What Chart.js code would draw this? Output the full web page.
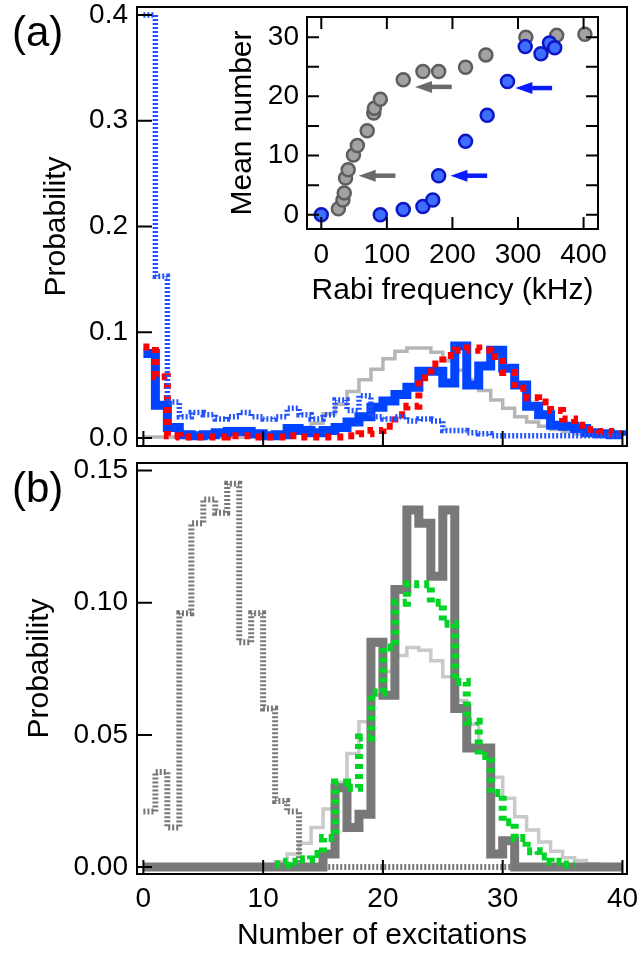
<!DOCTYPE html>
<html>
<head>
<meta charset="utf-8">
<script src="https://cdn.jsdelivr.net/npm/chart.js@4.4.1/dist/chart.umd.min.js"></script>
<style>
  html, body { margin: 0; padding: 0; background: #fff; }
  #fig { position: relative; width: 640px; height: 954px; overflow: hidden;
         font-family: 'Liberation Sans', Arial, Helvetica, sans-serif; }
  #fig canvas { position: absolute; }
  .panel-tag { position: absolute; left: 12px; font-size: 42px; line-height: 42px; color: #000; }
</style>
</head>
<body>
<div id="fig">
  <canvas id="histA" width="640" height="455" style="left:0;top:0"></canvas>
  <canvas id="histB" width="640" height="504" style="left:0;top:450px"></canvas>
  <canvas id="rabi" width="430" height="315" style="left:200px;top:0"></canvas>
  <div class="panel-tag" style="top:11px">(a)</div>
  <div class="panel-tag" style="top:467px">(b)</div>
</div>
<script>
// ---- excitation-number axis and tick labels ----
const excitations = [0,1,2,3,4,5,6,7,8,9,10,11,12,13,14,15,16,17,18,19,20,
                     21,22,23,24,25,26,27,28,29,30,31,32,33,34,35,36,37,38,39,40];
const excitationTicks = [0, 10, 20, 30, 40];
const probTicksA = [0, 0.1, 0.2, 0.3, 0.4];
const probTicksB = [0, 0.05, 0.10, 0.15];

// ---- panel (a) distributions ----
const thermalA = [0.001,0.001,0.001,0.001,0.001,0.001,0.001,0.001,0.001,0.001,0.002,
                  0.004,0.007,0.010,0.014,0.023,0.032,0.044,0.055,0.065,0.075,
                  0.082,0.085,0.085,0.081,0.073,0.064,0.055,0.045,0.036,0.028,
                  0.020,0.015,0.011,0.008,0.006,0.004,0.003,0.002,0.001,0.001];
const measuredRed = [0.086,0.058,0.002,0.001,0.001,0.001,0.001,0.002,0.002,0.001,0.001,
                     0.001,0.002,0.001,0.001,0.001,0.001,0.002,0.004,0.007,0.011,
                     0.022,0.030,0.057,0.070,0.078,0.083,0.085,0.083,0.077,0.062,
                     0.047,0.038,0.034,0.026,0.018,0.012,0.008,0.006,0.004,0.004];
const measuredBlue = [0.080,0.031,0.010,0.003,0.002,0.003,0.005,0.006,0.006,0.004,0.002,
                      0.003,0.009,0.007,0.005,0.007,0.010,0.015,0.020,0.029,0.035,
                      0.041,0.048,0.063,0.063,0.052,0.087,0.050,0.068,0.083,0.066,
                      0.050,0.030,0.022,0.012,0.011,0.009,0.005,0.004,0.003,0.002];
const initialBlue = [0.400,0.153,0.034,0.020,0.024,0.022,0.018,0.020,0.024,0.020,0.018,
                     0.020,0.028,0.022,0.018,0.022,0.036,0.026,0.040,0.020,0.018,
                     0.020,0.016,0.018,0.016,0.007,0.007,0.005,0.004,0.002,0.002,
                     0.002,0.002,0.002,0.002,0.002,0.002,0.002,0.002,0.002,0.002];

// ---- panel (b) distributions (null = no recorded value) ----
const thermalB = [0,0,0,0,0,0,0,0,0,0,0.001,
                  0.002,0.005,0.009,0.015,0.022,0.032,0.043,0.055,0.065,0.074,
                  0.080,0.083,0.082,0.078,0.072,0.063,0.054,0.044,0.034,0.026,
                  0.019,0.014,0.0095,0.006,0.0035,0.0025,0.0013,0.0005,0,0];
const measuredGray = [0,0,0,0,0,0,0,0,0,0,0,
                      0,0,0,0,0.005,0.030,0.015,0.020,0.085,0.065,
                      0.105,0.135,0.130,0.110,0.135,0.060,0.045,0.045,0.005,0.010,
                      0,0,0,0,0,0,0,0,0,0];
const measuredGreen = [null,null,null,null,null,null,null,null,null,null,null,
                       0.001,0.002,0.003,0.005,0.011,0.032,0.030,0.049,0.066,0.083,
                       0.100,0.107,0.107,0.100,0.092,0.070,0.055,0.042,0.028,0.017,
                       0.011,0.006,0.004,0.002,0.001,0.001,null,null,null,null];
const initialGray = [0.021,0.036,0.015,0.096,0.130,0.139,0.134,0.145,0.085,0.096,0.060,
                     0.025,0.021,0,0,0,0,0,0,0,0,
                     0,0,0,0,0,0,0,0,0,0,
                     0,0,0,0,0,0,0,0,0,0];

// ---- inset: mean excitation number vs Rabi frequency ----
const rabiTicks = [0, 100, 200, 300, 400];
const meanTicks = [0, 10, 20, 30];
const meanMinorTicks = [5, 15, 25];
const grayRabi = [26, 33, 35, 37, 41, 49, 55, 70, 80, 81, 90, 125, 155, 179, 220, 251, 312, 359, 402];
const grayMean = [1.0, 2.5, 3.7, 6.2, 7.6, 10.1, 11.7, 14.2, 17.2, 18.0, 19.5, 22.8, 24.2, 24.2, 24.9, 27.0, 30.0, 30.3, 30.5];
const blueRabi = [0, 90, 125, 155, 170, 179, 220, 253, 284, 311, 335, 348, 356];
const blueMean = [0, 0, 0.9, 1.4, 2.5, 6.6, 12.4, 16.8, 22.5, 28.4, 27.2, 29.0, 28.2];
const grayArrows = [{from: 113, to: 57, at: 6.6}, {from: 199, to: 143, at: 21.6}];
const blueArrows = [{from: 253, to: 197, at: 6.6}, {from: 352, to: 296, at: 21.4}];

// ---- shared drawing helpers ----
Chart.defaults.font.family = "'Liberation Sans', Arial, Helvetica, sans-serif";
Chart.defaults.font.size = 28;
Chart.defaults.color = '#000';
Chart.defaults.animation = false;
Chart.defaults.events = [];
Chart.defaults.plugins.legend.display = false;
Chart.defaults.plugins.tooltip.enabled = false;

const titleFont = { size: 30 };

// box around the plot area plus inward-pointing tick marks
const framePlugin = {
  id: 'frame',
  afterDatasetsDraw(chart, args, opts) {
    const { ctx, chartArea: a, scales } = chart;
    ctx.save();
    ctx.strokeStyle = '#000';
    ctx.lineWidth = opts.width;
    ctx.lineCap = 'butt';
    ctx.beginPath();
    opts.sides.forEach(side => {
      side.values.forEach(v => {
        if (side.edge === 'left' || side.edge === 'right') {
          const p = scales.y.getPixelForValue(v);
          const x0 = side.edge === 'left' ? a.left : a.right;
          const dir = side.edge === 'left' ? 1 : -1;
          ctx.moveTo(x0, p); ctx.lineTo(x0 + dir * side.len, p);
        } else {
          const p = scales.x.getPixelForValue(v);
          const y0 = side.edge === 'bottom' ? a.bottom : a.top;
          const dir = side.edge === 'bottom' ? -1 : 1;
          ctx.moveTo(p, y0); ctx.lineTo(p, y0 + dir * side.len);
        }
      });
    });
    ctx.stroke();
    ctx.strokeRect(a.left, a.top, a.right - a.left, a.bottom - a.top);
    ctx.restore();
  }
};

// horizontal arrows pointing at selected points of the inset
const arrowPlugin = {
  id: 'arrows',
  afterDatasetsDraw(chart, args, opts) {
    const { ctx, scales: { x, y } } = chart;
    ctx.save();
    opts.groups.forEach(g => {
      ctx.strokeStyle = g.color;
      ctx.fillStyle = g.color;
      g.items.forEach(a => {
        const tip = x.getPixelForValue(a.to);
        const tail = x.getPixelForValue(a.from);
        const py = y.getPixelForValue(a.at);
        ctx.lineWidth = opts.shaft;
        ctx.beginPath();
        ctx.moveTo(tip + opts.head * 0.7, py);
        ctx.lineTo(tail, py);
        ctx.stroke();
        ctx.beginPath();
        ctx.moveTo(tip, py);
        ctx.lineTo(tip + opts.head, py - opts.half);
        ctx.lineTo(tip + opts.head, py + opts.half);
        ctx.closePath();
        ctx.fill();
      });
    });
    ctx.restore();
  }
};

function stepSeries(values, style) {
  return Object.assign({
    type: 'line',
    data: excitations.map((n, i) => ({ x: n, y: values[i] })),
    stepped: 'before',
    pointRadius: 0,
    fill: false,
    tension: 0,
    borderJoinStyle: 'miter',
    borderCapStyle: 'butt'
  }, style);
}

// fixed-size axis box; the label overhang padding is dropped so the plot area stays put
function axis(min, max, tickValues, size, extra) {
  return Object.assign({
    type: 'linear',
    min: min,
    max: max,
    afterBuildTicks: s => { s.ticks = tickValues.map(v => ({ value: v })); },
    afterFit: s => {
      if (s.isHorizontal()) { s.height = size; } else { s.width = size; }
      s.paddingTop = 0; s.paddingBottom = 0; s.paddingLeft = 0; s.paddingRight = 0;
    },
    grid: { display: false, drawTicks: false },
    border: { display: false }
  }, extra);
}

// ---- panel (a) ----
new Chart(document.getElementById('histA'), {
  type: 'line',
  data: {
    datasets: [
      stepSeries(initialBlue, { order: 0, borderColor: '#2253ff', borderWidth: 5.5, borderDash: [2, 2] }),
      stepSeries(measuredRed, { order: 1, borderColor: '#ff0000', borderWidth: 7, borderDash: [6, 6] }),
      stepSeries(measuredBlue, { order: 2, borderColor: '#0044ff', borderWidth: 9 }),
      stepSeries(thermalA, { order: 3, borderColor: '#b6b6b6', borderWidth: 3.5 })
    ]
  },
  options: {
    responsive: false,
    layout: { padding: { left: 0, right: 13, top: 7, bottom: 0 } },
    scales: {
      x: axis(-0.535, 40.38, excitationTicks, 9, { ticks: { display: false } }),
      y: axis(-0.0076, 0.4076, probTicksA, 137, {
        ticks: { padding: 9, callback: v => v.toFixed(1) },
        title: { display: true, text: 'Probability', font: titleFont, padding: { top: 39, bottom: 0 } }
      })
    },
    plugins: {
      frame: { width: 2, sides: [
        { edge: 'left', values: probTicksA, len: 15 },
        { edge: 'bottom', values: excitationTicks, len: 15 }
      ] }
    }
  },
  plugins: [framePlugin]
});

// ---- panel (b) ----
new Chart(document.getElementById('histB'), {
  type: 'line',
  data: {
    datasets: [
      stepSeries(measuredGreen, { order: 0, borderColor: '#00d424', borderWidth: 8, borderDash: [5, 5] }),
      stepSeries(measuredGray, { order: 1, borderColor: '#787878', borderWidth: 9 }),
      stepSeries(initialGray, { order: 2, borderColor: '#777777', borderWidth: 6, borderDash: [2, 2] }),
      stepSeries(thermalB, { order: 3, borderColor: '#c9c9c9', borderWidth: 3.5 })
    ]
  },
  options: {
    responsive: false,
    layout: { padding: { left: 0, right: 13, top: 13, bottom: 0 } },
    scales: {
      x: axis(-0.535, 40.38, excitationTicks, 80, {
        ticks: { padding: 8, maxRotation: 0, autoSkip: false, callback: v => String(v) },
        title: { display: true, text: 'Number of excitations', font: titleFont, padding: { top: 0, bottom: 0 } }
      }),
      y: axis(-0.0026, 0.1528, probTicksB, 137, {
        ticks: { padding: 9, callback: v => v.toFixed(2) },
        title: { display: true, text: 'Probability', font: titleFont, padding: { top: 22, bottom: 0 } }
      })
    },
    plugins: {
      frame: { width: 2, sides: [
        { edge: 'left', values: probTicksB, len: 15 },
        { edge: 'bottom', values: excitationTicks, len: 14 }
      ] }
    }
  },
  plugins: [framePlugin]
});

// ---- inset ----
new Chart(document.getElementById('rabi'), {
  type: 'scatter',
  data: {
    datasets: [
      {
        order: 0,
        data: blueRabi.map((r, i) => ({ x: r, y: blueMean[i] })),
        pointRadius: 6.5, pointBorderWidth: 2.5,
        pointBackgroundColor: '#3f6dff', pointBorderColor: '#0c16c4'
      },
      {
        order: 1,
        data: grayRabi.map((r, i) => ({ x: r, y: grayMean[i] })),
        pointRadius: 6.5, pointBorderWidth: 2.5,
        pointBackgroundColor: '#a2a2a2', pointBorderColor: '#5e5e5e'
      }
    ]
  },
  options: {
    responsive: false,
    layout: { padding: { left: 0, right: 32, top: 17, bottom: 0 } },
    scales: {
      x: axis(-21.8, 422, rabiTicks, 86, {
        ticks: { padding: 9, maxRotation: 0, autoSkip: false, callback: v => String(v) },
        title: { display: true, text: 'Rabi frequency (kHz)', font: titleFont, padding: { top: 0, bottom: 6 } }
      }),
      y: axis(-2.4, 33.4, meanTicks, 107, {
        ticks: { padding: 8, callback: v => String(v) },
        title: { display: true, text: 'Mean number', font: titleFont, padding: { top: 25, bottom: 0 } }
      })
    },
    plugins: {
      frame: { width: 2, sides: [
        { edge: 'left', values: meanTicks.concat(meanMinorTicks), len: 12 },
        { edge: 'right', values: meanTicks.concat(meanMinorTicks), len: 12 },
        { edge: 'top', values: rabiTicks, len: 12 },
        { edge: 'bottom', values: rabiTicks, len: 12 }
      ] },
      arrows: { shaft: 4.5, head: 17, half: 6, groups: [
        { items: grayArrows, color: '#6a6a6a' },
        { items: blueArrows, color: '#0a1cff' }
      ] }
    }
  },
  plugins: [framePlugin, arrowPlugin]
});
</script>
</body>
</html>
